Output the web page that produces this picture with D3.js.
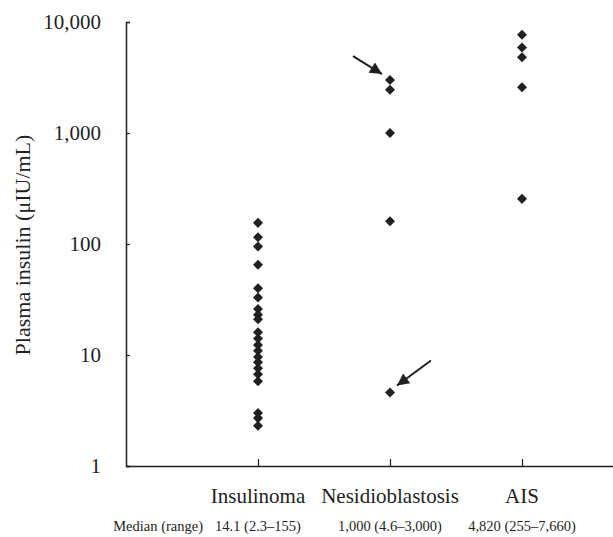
<!DOCTYPE html>
<html>
<head>
<meta charset="utf-8">
<script src="https://cdn.jsdelivr.net/npm/d3@7"></script>
<style>
  html, body { margin: 0; padding: 0; background: #fff; }
  svg { display: block; }
  text { font-family: "Liberation Serif", "DejaVu Serif", serif; fill: #231f20; }
</style>
</head>
<body>
<svg id="chart" width="613" height="537"></svg>
<script>
// ---- data ----
const categories = ["Insulinoma", "Nesidioblastosis", "AIS"];
const insulinomaValues = [155, 115, 95, 65, 40, 33, 26, 23, 21, 16, 14.1, 12.3, 10.9, 9.6, 8.6, 7.6, 6.7, 5.8, 3.0, 2.7, 2.3];
const nesidioblastosisValues = [3000, 2450, 1000, 160, 4.6];
const aisValues = [7660, 5900, 4820, 2580, 255];
const yTickValues = [1, 10, 100, 1000, 10000];
const medianLabels = ["14.1 (2.3–155)", "1,000 (4.6–3,000)", "4,820 (255–7,660)"];
const medianRowTitle = "Median (range)";
const yAxisTitle = "Plasma insulin (μIU/mL)";
const arrowTargets = [
  { category: "Nesidioblastosis", value: 3000, side: "left" },
  { category: "Nesidioblastosis", value: 4.6, side: "right" }
];

const seriesByCategory = {
  "Insulinoma": insulinomaValues,
  "Nesidioblastosis": nesidioblastosisValues,
  "AIS": aisValues
};

(function () {
// ---- layout ----
const svg = d3.select("#chart");
const mLeft = 126, mBottom = 466, mTop = 22, mRight = 654;
const ink = "#231f20";

const x = d3.scalePoint().domain(categories).range([mLeft, mRight]).padding(1);
const y = d3.scaleLog().domain([1, 10000]).range([mBottom, mTop]);

// y axis
const yAxis = svg.append("g").attr("transform", `translate(${mLeft},0)`)
  .call(d3.axisLeft(y).tickValues(yTickValues).tickSize(-4).tickPadding(25)
    .tickFormat(d3.format(",")));
yAxis.select(".domain").attr("stroke", ink).attr("stroke-width", 1.5);
yAxis.selectAll(".tick line").attr("stroke", ink).attr("stroke-width", 1.2);
yAxis.selectAll(".tick text").attr("font-size", 21).attr("fill", ink)
  .attr("font-family", "Liberation Serif, serif");

// x axis
const xAxis = svg.append("g").attr("transform", `translate(0,${mBottom})`)
  .call(d3.axisBottom(x).tickSize(-7).tickSizeOuter(0).tickFormat(() => ""));
xAxis.select(".domain").attr("stroke", ink).attr("stroke-width", 1.5)
  .attr("d", `M${mLeft},0.5H${mRight}`);
xAxis.selectAll(".tick line").attr("stroke", ink).attr("stroke-width", 1.2);

// category labels
svg.append("g").selectAll("text").data(categories).join("text")
  .attr("x", d => x(d)).attr("y", 503)
  .attr("text-anchor", "middle").attr("font-size", 21)
  .text(d => d);

// median row
svg.append("text").attr("x", 203).attr("y", 531).attr("text-anchor", "end")
  .attr("font-size", 14.5).text(medianRowTitle);
svg.append("g").selectAll("text").data(medianLabels).join("text")
  .attr("x", (d, i) => x(categories[i])).attr("y", 531)
  .attr("text-anchor", "middle").attr("font-size", 14.5)
  .text(d => d);

// y axis title
svg.append("text")
  .attr("transform", `translate(30,${(mTop + mBottom) / 2 + 1}) rotate(-90)`)
  .attr("text-anchor", "middle").attr("font-size", 22)
  .text(yAxisTitle);

// points
const points = categories.flatMap(c => seriesByCategory[c].map(v => ({ c, v })));
svg.append("g").selectAll("path").data(points).join("path")
  .attr("transform", d => `translate(${x(d.c)},${y(d.v)})`)
  .attr("d", d3.symbol(d3.symbolDiamond2, 64))
  .attr("fill", ink);

// arrows
const defs = svg.append("defs");
defs.append("marker").attr("id", "arrowhead")
  .attr("viewBox", "0 0 10 10").attr("refX", 10).attr("refY", 5)
  .attr("markerWidth", 7).attr("markerHeight", 6).attr("markerUnits", "strokeWidth")
  .attr("orient", "auto")
  .append("path").attr("d", "M0,0L10,5L0,10Z").attr("fill", ink);

svg.append("g").selectAll("line").data(arrowTargets).join("line")
  .attr("x1", d => x(d.category) + (d.side === "left" ? -37 : 41))
  .attr("y1", d => y(d.value) + (d.side === "left" ? -24 : -32))
  .attr("x2", d => x(d.category) + (d.side === "left" ? -8 : 7))
  .attr("y2", d => y(d.value) + (d.side === "left" ? -6 : -7))
  .attr("stroke", ink).attr("stroke-width", 2)
  .attr("marker-end", "url(#arrowhead)");
})();
</script>
</body>
</html>
